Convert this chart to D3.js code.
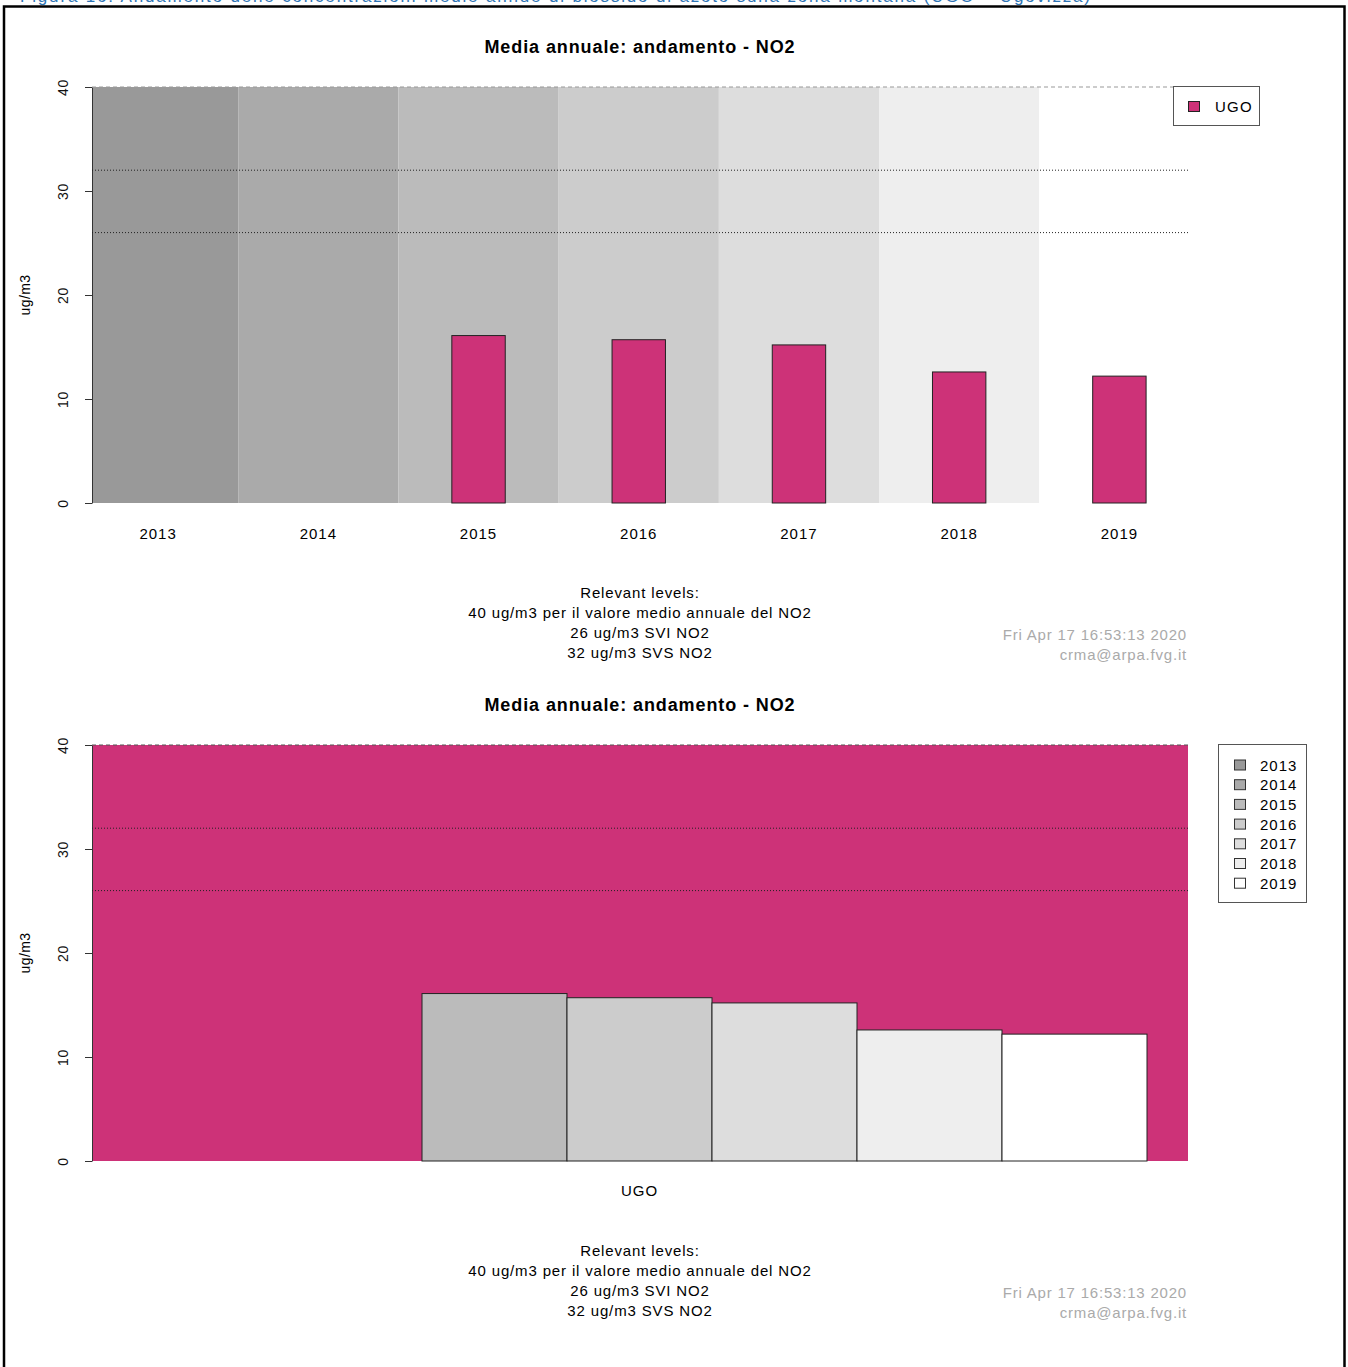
<!DOCTYPE html>
<html>
<head>
<meta charset="utf-8">
<script src="https://cdn.jsdelivr.net/npm/d3@7"></script>
<style>
  body { margin: 0; background: #fff; }
  svg { display: block; }
  text { font-family: "Liberation Sans", Arial, sans-serif; }
</style>
</head>
<body>
<script>
// NO2 annual means at station UGO (ug/m3); null = no data for that year
const years = ["2013", "2014", "2015", "2016", "2017", "2018", "2019"];
const station = "UGO";
const no2Values = [null, null, 16.1, 15.7, 15.2, 12.6, 12.2];
const yearShades = ["#999999", "#aaaaaa", "#bbbbbb", "#cccccc", "#dddddd", "#eeeeee", "#ffffff"];
const yTicks = [0, 10, 20, 30, 40];
const limitValue = 40;      // annual mean limit
const thresholds = [32, 26]; // SVS, SVI
const title = "Media annuale: andamento - NO2";
const notes = ["Relevant levels:", "40 ug/m3 per il valore medio annuale del NO2", "26 ug/m3 SVI NO2", "32 ug/m3 SVS NO2"];
const stamp = ["Fri Apr 17 16:53:13 2020", "crma@arpa.fvg.it"];
const caption = "Figura 16: Andamento delle concentrazioni medie annue di biossido di azoto sulla zona montana (UGO \u2013 Ugovizza)";
const stationColor = "#cd3278";

const W = 1348, H = 1367;
const svg = d3.select("body").append("svg").attr("width", W).attr("height", H);

// document frame and caption (the caption sits above the page edge)
svg.append("text").attr("x", 20).attr("y", 2)
  .attr("font-family", "'Open Sans', sans-serif").attr("font-size", 17)
  .attr("fill", "#2e74b5").attr("textLength", 1070).text(caption);
svg.append("path").attr("d", `M4,${H} V6.5 H1344.5 V${H}`)
  .attr("fill", "none").attr("stroke", "#000").attr("stroke-width", 2.5);

const plotL = 92, plotR = 1188;

function frame(top) {
  const g = svg.append("g");
  const y = d3.scaleLinear().domain([0, 40]).range([top + 416, top]);
  return { g, y };
}

function decorations(g, y, top, limitColor) {
  // title
  g.append("text").attr("x", 640).attr("y", top - 34).attr("text-anchor", "middle")
    .attr("font-weight", "bold").attr("font-size", 18).attr("letter-spacing", 0.9).text(title);
  // y axis
  const ax = g.append("g").attr("transform", `translate(${plotL},0)`)
    .call(d3.axisLeft(y).tickValues(yTicks).tickSize(7).tickSizeOuter(0).tickPadding(0));
  ax.select(".domain").attr("stroke", "#333");
  ax.selectAll(".tick line").attr("stroke", "#333");
  ax.selectAll(".tick text").attr("x", 0).attr("dy", 0)
    .attr("transform", "translate(-29,0) rotate(-90)")
    .attr("text-anchor", "middle").attr("dominant-baseline", "central")
    .attr("font-size", 14).attr("letter-spacing", 0.8).attr("fill", "#111")
    .style("font-family", "'Liberation Sans', Arial, sans-serif");
  // y label
  g.append("text").attr("transform", `translate(30,${y(20)}) rotate(-90)`)
    .attr("text-anchor", "middle").attr("font-size", 14).attr("letter-spacing", 0.4).text("ug/m3");
  // reference levels
  g.append("line").attr("x1", plotL).attr("x2", plotR).attr("y1", y(limitValue)).attr("y2", y(limitValue))
    .attr("stroke", limitColor).attr("stroke-dasharray", "4,3");
  thresholds.forEach(t => {
    g.append("line").attr("x1", plotL).attr("x2", plotR).attr("y1", y(t)).attr("y2", y(t))
      .attr("stroke", "#222").attr("stroke-dasharray", "1,2");
  });
  // notes
  const noteTop = y(0) + 95;
  notes.forEach((n, i) => {
    g.append("text").attr("x", 640).attr("y", noteTop + i * 20).attr("text-anchor", "middle")
      .attr("font-size", 15).attr("letter-spacing", 0.85).text(n);
  });
  stamp.forEach((s, i) => {
    g.append("text").attr("x", 1187).attr("y", noteTop + 42 + i * 20).attr("text-anchor", "end")
      .attr("font-size", 15).attr("letter-spacing", 0.8).attr("fill", "#aaaaaa").text(s);
  });
}

// ---------- chart 1: one bar per year over shaded year bands ----------
{
  const top = 87;
  const { g, y } = frame(top);
  const x = d3.scaleBand().domain(years).range([78, 1199.5]);
  const clipId = "clip1";
  g.append("clipPath").attr("id", clipId).append("rect")
    .attr("x", plotL).attr("y", top).attr("width", plotR - plotL).attr("height", y(0) - top);
  g.append("g").attr("clip-path", `url(#${clipId})`).selectAll("rect")
    .data(years).join("rect")
    .attr("x", d => x(d)).attr("width", x.bandwidth())
    .attr("y", top).attr("height", y(0) - top)
    .attr("fill", (d, i) => yearShades[i]);
  decorations(g, y, top, "#999");
  const bw = x.bandwidth() / 3;
  g.selectAll("rect.bar").data(years.map((d, i) => ({ year: d, v: no2Values[i] })).filter(d => d.v != null))
    .join("rect").attr("class", "bar")
    .attr("x", d => x(d.year) + x.bandwidth() / 2 - bw / 2).attr("width", bw)
    .attr("y", d => y(d.v)).attr("height", d => y(0) - y(d.v))
    .attr("fill", stationColor).attr("stroke", "#222").attr("stroke-width", 1);
  g.selectAll("text.xl").data(years).join("text").attr("class", "xl")
    .attr("x", d => x(d) + x.bandwidth() / 2).attr("y", y(0) + 36)
    .attr("text-anchor", "middle").attr("font-size", 15).attr("letter-spacing", 1).text(d => d);
  // legend
  const lg = g.append("g");
  lg.append("rect").attr("x", 1173.5).attr("y", 86.5).attr("width", 86).attr("height", 39)
    .attr("fill", "#fff").attr("stroke", "#555");
  lg.append("rect").attr("x", 1188.5).attr("y", 101.5).attr("width", 11).attr("height", 10)
    .attr("fill", stationColor).attr("stroke", "#222");
  lg.append("text").attr("x", 1215).attr("y", 112).attr("font-size", 15).attr("letter-spacing", 1.2).text(station);
}

// ---------- chart 2: one group for the station, one bar per year ----------
{
  const top = 745;
  const { g, y } = frame(top);
  g.append("rect").attr("x", plotL).attr("y", top).attr("width", plotR - plotL).attr("height", y(0) - top)
    .attr("fill", stationColor);
  decorations(g, y, top, "#555");
  const x = d3.scaleBand().domain(years).range([132, 1147]);
  g.selectAll("rect.bar").data(years.map((d, i) => ({ year: d, v: no2Values[i], c: yearShades[i] })).filter(d => d.v != null))
    .join("rect").attr("class", "bar")
    .attr("x", d => x(d.year)).attr("width", x.bandwidth())
    .attr("y", d => y(d.v)).attr("height", d => y(0) - y(d.v))
    .attr("fill", d => d.c).attr("stroke", "#222").attr("stroke-width", 1);
  g.append("text").attr("x", (x.range()[0] + x.range()[1]) / 2).attr("y", y(0) + 35)
    .attr("text-anchor", "middle").attr("font-size", 15).attr("letter-spacing", 1).text(station);
  // legend
  const lg = g.append("g");
  lg.append("rect").attr("x", 1218.5).attr("y", 744.5).attr("width", 88).attr("height", 158)
    .attr("fill", "#fff").attr("stroke", "#555");
  years.forEach((yr, i) => {
    const cy = 765 + i * 19.7;
    lg.append("rect").attr("x", 1234.5).attr("y", cy - 5).attr("width", 11).attr("height", 10)
      .attr("fill", yearShades[i]).attr("stroke", "#333");
    lg.append("text").attr("x", 1260).attr("y", cy + 5.5).attr("font-size", 15).attr("letter-spacing", 1).text(yr);
  });
}
</script>
</body>
</html>
